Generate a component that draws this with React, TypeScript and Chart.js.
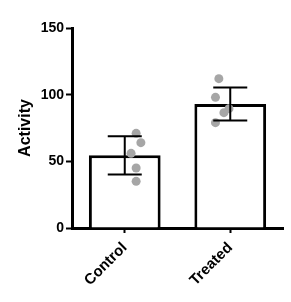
import React, { useEffect, useRef } from 'react';
import { Chart, registerables } from 'chart.js';
Chart.register(...registerables);

const categories = ['Control', 'Treated'];
const means = [54.5, 93];
const sds = [14.4, 12.4];
const controlPoints = [71, 64, 56, 45, 35];
const controlOffsets = [0.01, 0.066, -0.05, 0.01, 0.01];
const treatedPoints = [112, 98, 89.5, 86.5, 79];
const treatedOffsets = [-0.01, -0.05, 0.11, 0.05, -0.05];
const yTicks = [0, 50, 100, 150];

const FONT = "'Liberation Sans', Arial, sans-serif";

const errorBarPlugin = {
  id: 'errorBars',
  afterDatasetsDraw(chart: any) {
    const ctx = chart.ctx;
    const x = chart.scales.x;
    const y = chart.scales.y;
    ctx.save();
    ctx.strokeStyle = '#000';
    ctx.lineWidth = 2;
    means.forEach((m, i) => {
      const cx = x.getPixelForValue(i);
      const hi = y.getPixelForValue(m + sds[i]);
      const lo = y.getPixelForValue(m - sds[i]);
      const half = 17;
      ctx.beginPath();
      ctx.moveTo(cx, hi);
      ctx.lineTo(cx, lo);
      ctx.moveTo(cx - half, hi);
      ctx.lineTo(cx + half, hi);
      ctx.moveTo(cx - half, lo);
      ctx.lineTo(cx + half, lo);
      ctx.stroke();
    });
    ctx.restore();
  },
};

export default function App() {
  const ref = useRef<HTMLCanvasElement>(null);
  useEffect(() => {
    document.body.style.margin = '0';
    const points = [
      ...controlPoints.map((v, i) => ({ x: 0 + controlOffsets[i], y: v })),
      ...treatedPoints.map((v, i) => ({ x: 1 + treatedOffsets[i], y: v })),
    ];
    const chart = new Chart(ref.current as HTMLCanvasElement, {
      type: 'bar',
      data: {
        labels: categories,
        datasets: [
          {
            type: 'bar',
            data: means,
            backgroundColor: '#ffffff',
            borderColor: '#000000',
            borderWidth: 3,
            barPercentage: 0.68,
            categoryPercentage: 1,
            grouped: false,
            order: 2,
          } as any,
          {
            type: 'scatter',
            data: points,
            xAxisID: 'xs',
            yAxisID: 'y',
            backgroundColor: '#a6a6a6',
            borderColor: '#a6a6a6',
            pointRadius: 4.5,
            borderWidth: 0,
            order: 1,
          } as any,
        ],
      },
      options: {
        animation: false,
        responsive: false,
        maintainAspectRatio: false,
        layout: { padding: { top: 28, right: 8, left: 0, bottom: 0 } },
        plugins: { legend: { display: false }, tooltip: { enabled: false } },
        scales: {
          x: {
            type: 'category',
            offset: true,
            grid: {
              offset: false,
              drawOnChartArea: false,
              drawTicks: true,
              tickLength: 5,
              tickWidth: 2,
              tickColor: '#000',
            },
            border: { display: true, color: '#000', width: 3 },
            ticks: {
              color: '#000',
              font: { family: FONT, size: 15, weight: 'bold' },
              minRotation: 45,
              maxRotation: 45,
              padding: 6,
            },
            afterFit(scale: any) {
              scale.height = 74;
            },
          },
          xs: {
            type: 'linear',
            display: false,
            min: -0.5,
            max: 1.5,
          },
          y: {
            min: 0,
            max: 150,
            grid: {
              drawOnChartArea: false,
              drawTicks: true,
              tickLength: 6,
              tickWidth: 2,
              tickColor: '#000',
            },
            border: { display: true, color: '#000', width: 3 },
            afterBuildTicks(scale: any) {
              scale.ticks = yTicks.map((v) => ({ value: v }));
            },
            ticks: {
              color: '#000',
              font: { family: FONT, size: 14, weight: 'bold' },
              padding: 2,
            },
            title: {
              display: true,
              text: 'Activity',
              color: '#000',
              font: { family: FONT, size: 16, weight: 'bold' },
              padding: { top: 16, bottom: 4 },
            },
            afterFit(scale: any) {
              scale.width = 72;
            },
          },
        },
      } as any,
      plugins: [errorBarPlugin],
    });
    return () => chart.destroy();
  }, []);
  return (
    <div style={{ width: 291, height: 302, background: '#fff' }}>
      <canvas ref={ref} width={291} height={302} style={{ display: 'block' }} />
    </div>
  );
}
